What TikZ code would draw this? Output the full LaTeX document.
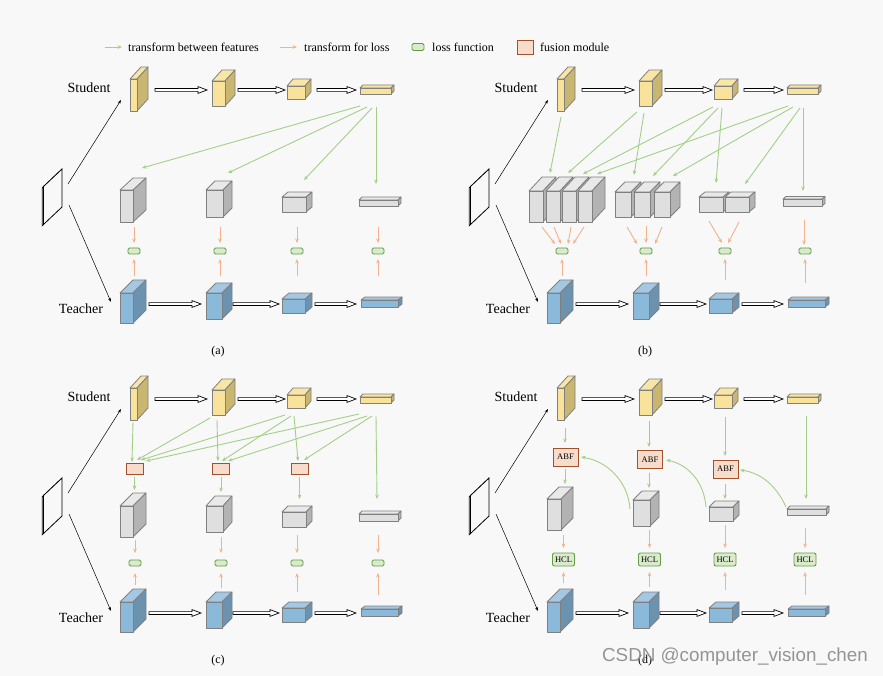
\documentclass[tikz,border=0pt]{standalone}
\usepackage{fontspec}
\setmainfont{Liberation Serif}
\newfontfamily\wmfont{Liberation Sans}
\usetikzlibrary{arrows.meta}
\definecolor{bg}{HTML}{F8F8F8}
\definecolor{cubec}{HTML}{808080}
\definecolor{Yf}{HTML}{F9E39A}
\definecolor{Ys}{HTML}{C9B671}
\definecolor{Yt}{HTML}{F7E6A6}
\definecolor{Gf}{HTML}{DFDFDF}
\definecolor{Gs}{HTML}{B3B3B3}
\definecolor{Gt}{HTML}{E9E9E9}
\definecolor{Bf}{HTML}{8BB9D9}
\definecolor{Bs}{HTML}{6B92AF}
\definecolor{Bt}{HTML}{A4C8E4}
\definecolor{garrc}{HTML}{A3CF88}
\definecolor{oarrc}{HTML}{F2B28A}
\definecolor{lossf}{HTML}{D9EBCC}
\definecolor{lossd}{HTML}{639E45}
\definecolor{fusf}{HTML}{F8DCCB}
\definecolor{fusd}{HTML}{A0522D}
\newcommand{\fcube}[7]{%
  \filldraw[cubeline,fill=#7t] (#1,#2) -- ++(#5,-#6) -- ++(#3,0) -- ++(-#5,#6) -- cycle;
  \filldraw[cubeline,fill=#7s] (#1+#3,#2) -- ++(#5,-#6) -- ++(0,#4) -- ++(-#5,#6) -- cycle;
  \filldraw[cubeline,fill=#7f] (#1,#2) rectangle ++(#3,#4);
}
\newcommand{\harrow}[3]{%
  \filldraw[fill=white,draw=black,line width=0.7pt,line join=miter]
    (#1,#3-1.4) -- (#2-9,#3-1.4) -- (#2-9,#3-3.4) -- (#2,#3) -- (#2-9,#3+3.4) -- (#2-9,#3+1.4) -- (#1,#3+1.4) -- cycle;
}
\newcommand{\panelbase}[1]{%
  \filldraw[draw=black,fill=gray!70,line width=0.5pt] (42,188) -- (43.5,186.5) -- (43.5,224.5) -- (42,226) -- cycle;
  \filldraw[draw=black,fill=gray!40,line width=0.5pt] (42,188) -- (60.5,170.5) -- (62,169) -- (43.5,186.5) -- cycle;
  \filldraw[draw=black,fill=bg,line width=0.8pt] (43.5,186.5) -- (62,169) -- (62,207) -- (43.5,224.5) -- cycle;
  \coordinate (imgU) at (68,184);
  \coordinate (imgD) at (69,205);
  \node[lbl] (stu) at (89,88) {Student};
  \node[lbl] (tea) at (81,309) {Teacher};
  \coordinate (stuIn) at (121,100);
  \coordinate (teaIn) at (111,302);
  \draw[barr] (imgU) -- (stuIn);
  \draw[barr] (imgD) -- (teaIn);
  \fcube{130}{79}{7}{32}{11}{12}{Y}
  \fcube{212}{81}{13}{25}{10}{11}{Y}
  \fcube{287}{86}{18}{13}{6}{7}{Y}
  \fcube{360}{88}{31}{6}{3}{3}{Y}
  \harrow{155}{207}{90}\harrow{238}{285}{90}\harrow{317}{356}{90}
  \fcube{120}{293}{13}{30}{13}{13}{B}
  \fcube{206}{293}{16}{26}{10}{10}{B}
  \fcube{282}{299}{23}{14}{7}{6}{B}
  \fcube{361}{300}{37}{7}{4}{3}{B}
  \harrow{149}{201}{304}\harrow{233}{279}{304}\harrow{315}{356}{304}
  \node[captxt] (caption) at (218,352) {#1};
}
\begin{document}
\begin{tikzpicture}[x=1pt,y=-1pt,
  cubeline/.style={draw=cubec,line width=0.8pt,line join=round},
  garr/.style={draw=garrc,line width=0.9pt,-{Stealth[length=4.5pt,width=3.6pt]}},
  oarr/.style={draw=oarrc,line width=0.9pt,-{Stealth[length=4.5pt,width=3.6pt]}},
  barr/.style={draw=black,line width=0.5pt,-{Stealth[length=4pt,width=2.8pt]}},
  lossbox/.style={draw=lossd,fill=lossf,line width=0.9pt,rounded corners=1.5pt,minimum width=12pt,minimum height=6pt,inner sep=0pt},
  fusbox/.style={draw=fusd,fill=fusf,line width=0.9pt,minimum width=17pt,minimum height=11pt,inner sep=0pt},
  abfbox/.style={draw=fusd,fill=fusf,line width=0.9pt,minimum width=25pt,minimum height=18pt,inner sep=0pt,font=\fontsize{8.5}{9}\selectfont},
  hclbox/.style={draw=lossd,fill=lossf,line width=0.9pt,rounded corners=2pt,minimum width=22pt,minimum height=13pt,inner sep=0pt,font=\fontsize{8.5}{9}\selectfont},
  lbl/.style={font=\fontsize{14}{16}\selectfont,inner sep=0pt},
  captxt/.style={font=\fontsize{12}{14}\selectfont,inner sep=0pt},
  leg/.style={font=\fontsize{12}{14}\selectfont,anchor=west,inner sep=0pt}]
\useasboundingbox (0,0) rectangle (883,676);
\fill[bg] (0,0) rectangle (883,676);
% legend
\coordinate (lg1a) at (105,47); \coordinate (lg1b) at (122,47);
\draw[garr] (lg1a) -- (lg1b);
\node[leg] (lt1) at (128,47) {transform between features};
\coordinate (lg2a) at (280,47); \coordinate (lg2b) at (297,47);
\draw[oarr] (lg2a) -- (lg2b);
\node[leg] (lt2) at (304,47) {transform for loss};
\node[lossbox,minimum height=7pt] (lg3) at (418,47) {};
\node[leg] (lt3) at (432,47) {loss function};
\node[fusbox,minimum width=16pt,minimum height=14pt] (lg4) at (525,47) {};
\node[leg] (lt4) at (540,47) {fusion module};
% ---------------- (a)
\begin{scope}[name prefix=a-]
\panelbase{(a)}
\fcube{120}{190}{13}{32}{13}{12}{G}
\fcube{206}{190}{17}{27}{9}{9}{G}
\fcube{282}{197}{24}{15}{6}{5}{G}
\fcube{359}{200}{39}{6}{3}{3}{G}
\draw[garr] (360,106) -- (142,168);
\draw[garr] (367,107) -- (228,173);
\draw[garr] (372,108) -- (304,180);
\draw[garr] (376,107) -- (376,184);
\foreach \x/\n in {134/1,220/2,297/3,378/4}{
  \node[lossbox] (l\n) at (\x,251) {};
  \draw[oarr] (\x,227) -- (\x,243);
  \draw[oarr] (\x,276) -- (\x,259);
}
\end{scope}
% ---------------- (b)
\begin{scope}[shift={(427,0)},name prefix=b-]
\panelbase{(b)}
\foreach \x in {102,119,135,151}{\fcube{\x}{191}{14}{31}{13}{14}{G}}
\foreach \x in {188,207,227}{\fcube{\x}{192}{16}{25}{10}{10}{G}}
\foreach \x in {272,298}{\fcube{\x}{197}{24}{15}{6}{5}{G}}
\fcube{356}{199}{39}{7}{3}{2.5}{G}
\draw[garr] (134,117) -- (123,173);
\draw[garr] (210,112) -- (141,173);
\draw[garr] (217,113) -- (207,175);
\draw[garr] (286,107) -- (156,174);
\draw[garr] (291,108) -- (226,176);
\draw[garr] (295,108) -- (289,183);
\draw[garr] (361,106) -- (170,174);
\draw[garr] (366,107) -- (246,176);
\draw[garr] (373,108) -- (318,184);
\draw[garr] (376,108) -- (376,191);
\foreach \x/\n in {135/1,219/2,298/3,378/4}{\node[lossbox] (l\n) at (\x,251) {};}
\draw[oarr] (115,227) -- (128,244);
\draw[oarr] (127,227) -- (134,244);
\draw[oarr] (144,227) -- (141,244);
\draw[oarr] (157,227) -- (146,244);
\draw[oarr] (200,227) -- (210,244);
\draw[oarr] (219,226) -- (219,243);
\draw[oarr] (235,227) -- (228,244);
\draw[oarr] (282,221) -- (295,243);
\draw[oarr] (312,222) -- (301,243);
\draw[oarr] (377,220) -- (377,245);
\draw[oarr] (135,276) -- (135,259);
\draw[oarr] (219,276) -- (219,259);
\draw[oarr] (298,280) -- (298,259);
\draw[oarr] (378,283) -- (378,259);
\end{scope}
% ---------------- (c)
\begin{scope}[shift={(0,309)},name prefix=c-]
\panelbase{(c)}
\fcube{120}{197}{13}{31}{13}{13}{G}
\fcube{206}{197}{17}{26}{9}{10}{G}
\fcube{282}{203}{24}{15}{6}{6}{G}
\fcube{359}{205}{39}{7}{3}{3}{G}
\draw[garr] (133,113) -- (132,153);
\draw[garr] (210,109) -- (137,151);
\draw[garr] (217,111) -- (218,152);
\draw[garr] (285,106) -- (141,151);
\draw[garr] (291,107) -- (222,152);
\draw[garr] (294,107) -- (298,152);
\draw[garr] (359,105) -- (146,152);
\draw[garr] (367,107) -- (228,152);
\draw[garr] (372,107) -- (304,151);
\draw[garr] (376,107) -- (377,190);
\foreach \x/\n/\g in {134.5/1/181,221/2/183,299.5/3/190}{
  \node[fusbox] (f\n) at (\x,159.5) {};
  \draw[garr] (\x,168) -- (\x,\g);
}
\foreach \x/\n/\s/\u in {135/1/231/276,221/2/228/279,297/3/226/283,378/4/226/286}{
  \node[lossbox] (l\n) at (\x,254) {};
  \draw[oarr] (\x,\s) -- (\x,244);
  \draw[oarr] (\x,\u) -- (\x,264);
}
\end{scope}
% ---------------- (d)
\begin{scope}[shift={(427,309)},name prefix=d-]
\panelbase{(d)}
\fcube{120}{190}{14}{31}{12}{12}{G}
\fcube{206}{191}{17}{26}{9}{9}{G}
\fcube{282}{198}{24}{14}{6}{6}{G}
\fcube{360}{200}{39}{6}{3}{3}{G}
\node[abfbox] (abf1) at (138.5,148) {ABF};
\node[abfbox] (abf2) at (223,150.5) {ABF};
\node[abfbox] (abf3) at (298.5,160) {ABF};
\draw[garr] (138,119) -- (138,134);
\draw[garr] (138,160) -- (138,175);
\draw[garr] (222,112) -- (222,138);
\draw[garr] (222,164) -- (222,179);
\draw[garr] (298,108) -- (298,147);
\draw[garr] (298,175) -- (298,190);
\draw[garr] (379,107) -- (379,190);
\draw[garr] (203,200) .. controls (201,172) and (180,152) .. (154,148);
\draw[garr] (279,198) .. controls (277,172) and (260,155) .. (239,151);
\draw[garr] (359,198) .. controls (350,178) and (335,164) .. (313,161);
\foreach \x/\n/\s/\u in {136.5/1/226/274,222.5/2/221/278,298/3/216/281,378/4/219/286}{
  \node[hclbox] (h\n) at (\x,250.5) {HCL};
  \draw[oarr] (\x,\s) -- (\x,239);
  \draw[oarr] (\x,\u) -- (\x,263);
}
\end{scope}
\node[font=\wmfont\fontsize{18.8}{20}\selectfont,text=black!42,inner sep=0pt] (wm) at (735,657) {CSDN @computer\_vision\_chen};
\end{tikzpicture}
\end{document}
